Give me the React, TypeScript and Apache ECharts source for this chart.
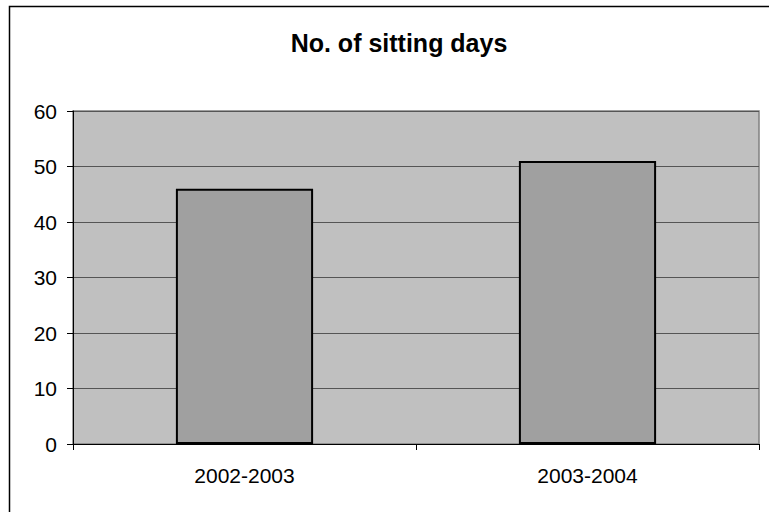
import React, { useEffect, useRef } from "react";
import * as echarts from "echarts";

const titleText = "No. of sitting days";
const categories = ["2002-2003", "2003-2004"];
const sittingDays = [46, 51];
const yMin = 0;
const yMax = 60;
const yInterval = 10;

export default function App() {
  const ref = useRef<HTMLDivElement>(null);
  useEffect(() => {
    if (!ref.current) return;
    const chart = echarts.init(ref.current, null, { renderer: "svg" });
    chart.setOption({
      animation: false,
      backgroundColor: "#ffffff",
      title: {
        text: titleText,
        left: 394,
        top: 25,
        textAlign: "center",
        textStyle: {
          fontFamily: "Liberation Sans, Arial, sans-serif",
          fontWeight: "bold",
          fontSize: 25,
          color: "#000",
        },
      },
      graphic: [
        {
          type: "rect",
          shape: { x: 9.5, y: 6.5, width: 800, height: 600 },
          style: { fill: "none", stroke: "#000", lineWidth: 1.5 },
          silent: true,
          z: 100,
        },
      ],
      grid: {
        left: 73,
        top: 111,
        right: 10,
        bottom: 68,
        show: true,
        backgroundColor: "#c0c0c0",
        borderColor: "#808080",
        borderWidth: 1.5,
      },
      xAxis: {
        type: "category",
        data: categories,
        axisLine: { show: true, lineStyle: { color: "#000", width: 1 } },
        axisTick: { show: true, length: 6, lineStyle: { color: "#000" } },
        axisLabel: {
          fontFamily: "Liberation Sans, Arial, sans-serif",
          fontSize: 21,
          color: "#000",
          margin: 21,
        },
      },
      yAxis: {
        type: "value",
        min: yMin,
        max: yMax,
        interval: yInterval,
        axisLine: { show: true, lineStyle: { color: "#000", width: 1 } },
        axisTick: { show: true, length: 6, lineStyle: { color: "#000" } },
        splitLine: { show: true, lineStyle: { color: "#555", width: 1 } },
        axisLabel: {
          fontFamily: "Liberation Sans, Arial, sans-serif",
          fontSize: 21,
          color: "#000",
          margin: 16,
        },
      },
      series: [
        {
          type: "bar",
          data: sittingDays,
          barWidth: "40%",
          itemStyle: { color: "#a0a0a0", borderColor: "#000", borderWidth: 2 },
        },
      ],
    });
    return () => chart.dispose();
  }, []);
  return (
    <div
      ref={ref}
      style={{ position: "absolute", left: 0, top: 0, width: 769, height: 512 }}
    />
  );
}
